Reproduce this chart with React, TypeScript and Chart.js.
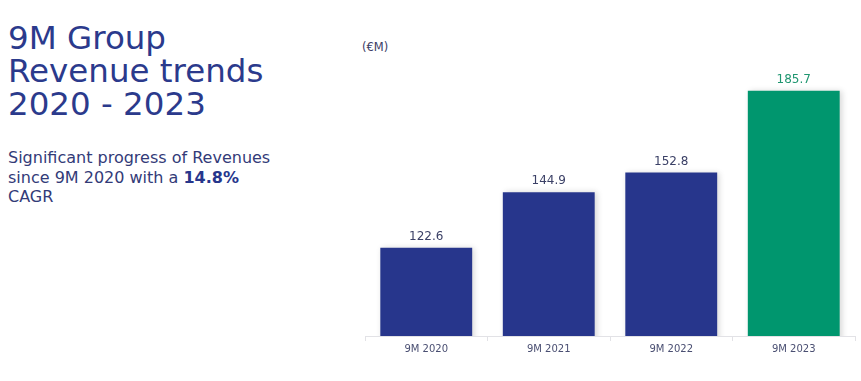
import React, { useEffect, useRef } from "react";
import { Chart, registerables } from "chart.js";

Chart.register(...registerables);

const categories = ["9M 2020", "9M 2021", "9M 2022", "9M 2023"];
const revenues = [122.6, 144.9, 152.8, 185.7];
const barColors = ["#27368c", "#27368c", "#27368c", "#00966e"];
const labelColors = ["#3b4066", "#3b4066", "#3b4066", "#1f9670"];
const valueLabels = ["122.6", "144.9", "152.8", "185.7"];

const FONT = "'DejaVu Sans', Verdana, sans-serif";

const labelPlugin = {
  id: "valueLabels",
  beforeDatasetsDraw(chart: any) {
    const ctx = chart.ctx;
    ctx.save();
    ctx.shadowColor = "rgba(0,0,0,0.16)";
    ctx.shadowBlur = 6;
    ctx.shadowOffsetX = 2;
    ctx.shadowOffsetY = 0;
  },
  afterDatasetsDraw(chart: any) {
    const ctx = chart.ctx;
    ctx.restore();
    const meta = chart.getDatasetMeta(0);
    ctx.save();
    ctx.font = `12px ${FONT}`;
    ctx.textAlign = "center";
    ctx.textBaseline = "bottom";
    meta.data.forEach((bar: any, i: number) => {
      ctx.fillStyle = labelColors[i];
      ctx.fillText(valueLabels[i], bar.x, bar.y - 5);
    });
    ctx.restore();
  },
};

export default function App() {
  const ref = useRef<HTMLCanvasElement>(null);
  useEffect(() => {
    document.body.style.margin = "0";
    const chart = new Chart(ref.current!, {
      type: "bar",
      data: {
        labels: categories,
        datasets: [
          {
            data: revenues,
            backgroundColor: barColors,
            borderWidth: 0,
            categoryPercentage: 1,
            barPercentage: 0.75,
          },
        ],
      },
      options: {
        animation: false,
        responsive: false,
        layout: { padding: { left: 10, right: 6, top: 60, bottom: 24 } },
        plugins: { legend: { display: false }, tooltip: { enabled: false } },
        scales: {
          y: { display: false, min: 87.2, max: 198 },
          x: {
            grid: {
              offset: true,
              drawOnChartArea: false,
              drawTicks: true,
              tickLength: 5,
              color: "#e2e2e6",
            },
            border: { color: "#e2e2e6", width: 1 },
            ticks: { color: "#4a4f72", font: { size: 10, family: FONT }, padding: 2 },
          },
        },
      },
      plugins: [labelPlugin],
    });
    return () => chart.destroy();
  }, []);

  return (
    <div style={{ position: "fixed", left: 0, top: 0, width: 861, height: 381, background: "#fff", fontFamily: FONT }}>
      <div style={{ position: "absolute", left: 8, top: 22, fontSize: 32.5, lineHeight: "33px", color: "#2b3a8c", whiteSpace: "nowrap" }}>
        9M Group<br />Revenue trends<br />2020 - 2023
      </div>
      <div style={{ position: "absolute", left: 8, top: 148, fontSize: 16, lineHeight: "19.5px", color: "#333b78", whiteSpace: "nowrap" }}>
        Significant progress of Revenues<br />since 9M 2020 with a <b style={{ color: "#27368c" }}>14.8%</b><br />CAGR
      </div>
      <div style={{ position: "absolute", left: 362, top: 40, fontSize: 11.5, color: "#3b4066" }}>(€M)</div>
      <canvas ref={ref} width={506} height={381} style={{ position: "absolute", left: 355, top: 0, width: 506, height: 381 }} />
    </div>
  );
}
